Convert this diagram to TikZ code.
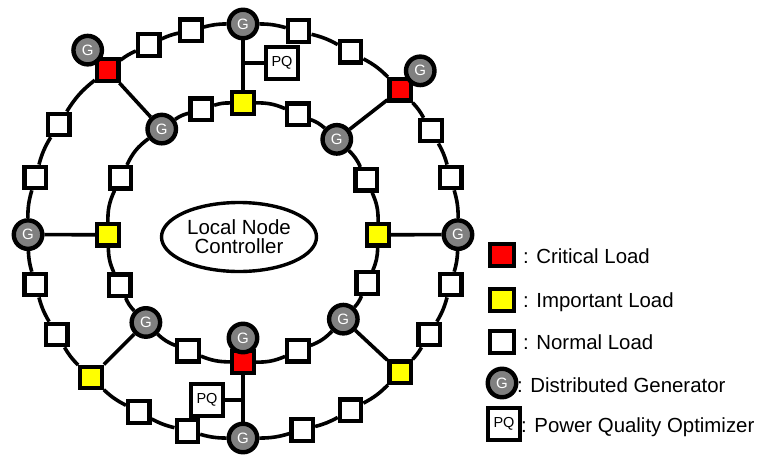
\documentclass[tikz,border=0pt]{standalone}
\usepackage{fontspec}
\setmainfont{Liberation Sans}
\usetikzlibrary{shapes.geometric}

\definecolor{critred}{RGB}{255,0,0}
\definecolor{impyellow}{RGB}{255,255,0}
\definecolor{gengray}{RGB}{128,128,128}

\tikzset{
  wire/.style={line width=3.6pt},
  loadbox/.style={draw, line width=4.2pt, minimum size=21.5pt, inner sep=0pt, fill=white},
  nl/.style={loadbox},
  il/.style={loadbox, fill=impyellow},
  cl/.style={loadbox, fill=critred},
  gentext/.style={text=white, inner sep=0pt, font=\fontsize{15}{15}\selectfont},
  gen/.style={circle, draw, line width=4.4pt, fill=gengray, minimum size=28.5pt,
    inner sep=0pt, label={[gentext]center:G}},
  pqbox/.style={draw, line width=3.8pt, minimum size=31.5pt, inner sep=0pt, fill=white,
    font=\fontsize{14.5}{14.5}\selectfont},
  controller/.style={ellipse, draw, line width=3.4pt, minimum width=155pt, minimum height=69pt,
    inner sep=0pt, align=center, font=\fontsize{20.5}{19}\selectfont},
  legendtext/.style={anchor=base west, inner sep=0pt, font=\fontsize{20.4}{24}\selectfont},
}

% angle/kind of every element on the two rings
\def\outerring{-90/gen, -74/nl, -60/nl, -43/il, -30/nl, -15/nl, -1/gen, 15/nl, 29/nl,
  43/cl, 60/nl, 75/nl, 90/gen, 104/nl, 116/nl, 129/cl, 149/nl, 165/nl, 181/gen,
  195/nl, 210/nl, 225/il, 241/nl, 255/nl}
\def\innerring{-90/cl, -66/nl, -42/gen, -23/nl, -1/il, 24/nl, 46/gen, 66/nl, 90/il,
  108/nl, 127/gen, 155/nl, 181/il, 204/nl, 224/gen, 246/nl}

\begin{document}
\begin{tikzpicture}[x=1pt, y=-1pt]
  \fill[white] (0,0) rectangle (758,456);

  % outer ring
  \foreach \ang/\kind [count=\i, remember=\ang as \pang, remember=\i as \pj] in \outerring {
    \node[\kind] (o\i) at ({243+215*cos(\ang)},{231-207*sin(\ang)}) {};
    \ifnum\i>1
      \pgfmathsetmacro\bendang{(\ang-\pang)/2}
      \draw[wire] (o\pj) to[bend right=\bendang] (o\i);
    \fi
  }
  \draw[wire] (o24) to[bend right=7.5] (o1);

  % inner ring
  \foreach \ang/\kind [count=\i, remember=\ang as \pang, remember=\i as \pj] in \innerring {
    \node[\kind] (i\i) at ({243+135*cos(\ang)},{232.5-129.5*sin(\ang)}) {};
    \ifnum\i>1
      \pgfmathsetmacro\bendang{(\ang-\pang)/2}
      \draw[wire] (i\pj) to[bend right=\bendang] (i\i);
    \fi
  }
  \draw[wire] (i16) to[bend right=11] (i1);

  % spokes between the rings
  \draw[wire] (o1) -- (i1);
  \draw[wire] (o4) -- (i3);
  \draw[wire] (o7) -- (i5);
  \draw[wire] (o10) -- (i7);
  \draw[wire] (o13) -- (i9);
  \draw[wire] (o16) -- (i11);
  \draw[wire] (o19) -- (i13);
  \draw[wire] (o22) -- (i15);

  % generators sitting on the critical loads
  \node[gen] (gA) at ([shift={(-20,-20)}]o16) {};
  \node[gen] (gB) at ([shift={(20,-19)}]o10) {};
  \node[gen] (gC) at ([shift={(0,-24)}]i1) {};

  % power quality optimizers tapped on the vertical spokes
  \node[pqbox] (pqA) at (282,63) {PQ};
  \draw[wire] (pqA.west) -- (pqA.west -| o13);
  \node[pqbox] (pqB) at (207,400) {PQ};
  \draw[wire] (pqB.east) -- (pqB.east -| o1);

  % controller
  \node[controller] (lnc) at (239,237) {Local Node\\Controller};

  % legend
  \node[cl, minimum width=23.5pt] (lgR) at (502,255) {};
  \node[il, minimum width=23.5pt] (lgY) at (502,300) {};
  \node[nl, minimum width=23.5pt] (lgN) at (502,342) {};
  \node[gen] (lgG) at (502,383) {};
  \node[pqbox] (lgP) at (504,424) {PQ};
  \node[legendtext] (tR) at (523,263) {: Critical Load};
  \node[legendtext] (tY) at (523,307) {: Important Load};
  \node[legendtext] (tN) at (523,349) {: Normal Load};
  \node[legendtext] (tG) at (517,392) {: Distributed Generator};
  \node[legendtext] (tP) at (521,432) {: Power Quality Optimizer};
\end{tikzpicture}
\end{document}
